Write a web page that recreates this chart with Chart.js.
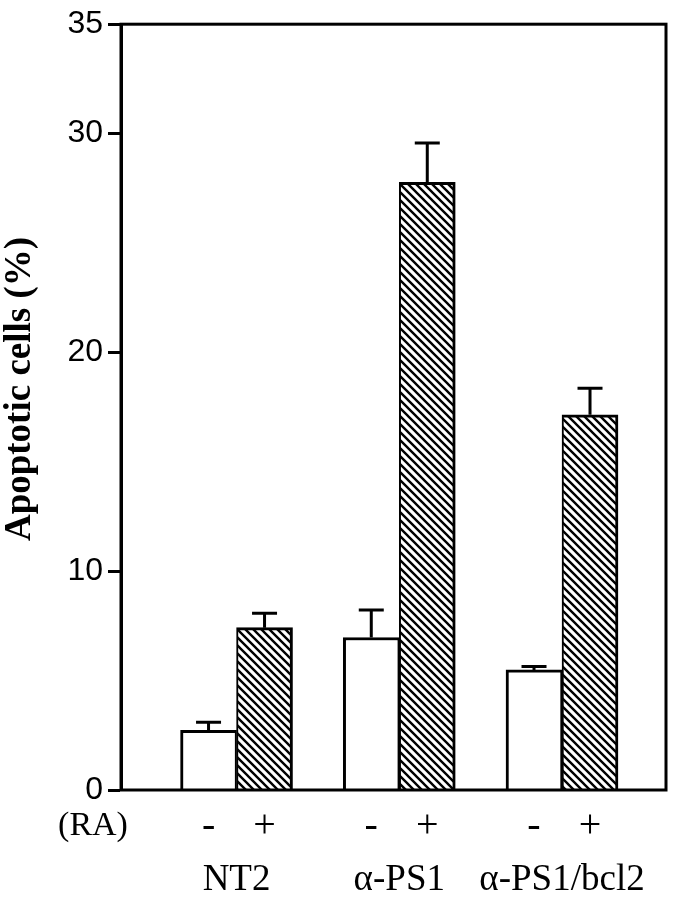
<!DOCTYPE html>
<html>
<head>
<meta charset="utf-8">
<script src="https://cdn.jsdelivr.net/npm/chart.js@4"></script>
<style>
  html, body { margin: 0; padding: 0; background: #fff; }
  #wrap { width: 680px; height: 899px; }
</style>
</head>
<body>
<div id="wrap"><canvas id="apoptosisChart"></canvas></div>
<script>
// Cell lines and their position on the x axis
const groupLabels = ['NT2', 'α-PS1', 'α-PS1/bcl2'];
const groupPos = [1, 2, 3];

// Apoptotic cells (%) without / with RA
const minusRA = [2.73, 6.97, 5.49];
const plusRA = [7.42, 27.77, 17.15];

// Error bars (upper side only)
const minusErr = [0.37, 1.26, 0.16];
const plusErr = [0.66, 1.8, 1.21];

const yTicks = [0, 10, 20, 30, 35];
const raLabels = ['-', '+'];

// Diagonal hatch for the +RA bars
function makeHatch() {
  const c = document.createElement('canvas');
  c.width = 8; c.height = 8;
  const g = c.getContext('2d');
  g.fillStyle = '#fff';
  g.fillRect(0, 0, 8, 8);
  g.strokeStyle = '#000';
  g.lineWidth = 2.4;
  g.beginPath();
  g.moveTo(-2, -2); g.lineTo(10, 10);
  g.moveTo(-2, 6); g.lineTo(2, 10);
  g.moveTo(6, -2); g.lineTo(10, 2);
  g.stroke();
  return g.createPattern(c, 'repeat');
}

// Error bars drawn on top of the bars
const errorBars = {
  id: 'errorBars',
  afterDatasetsDraw(chart) {
    const ctx = chart.ctx, y = chart.scales.y;
    [minusErr, plusErr].forEach((errs, di) => {
      const meta = chart.getDatasetMeta(di);
      const vals = chart.data.datasets[di].data;
      meta.data.forEach((bar, i) => {
        const top = y.getPixelForValue(vals[i].y + errs[i]);
        ctx.save();
        ctx.strokeStyle = '#000';
        ctx.lineWidth = 3;
        ctx.beginPath();
        ctx.moveTo(bar.x, bar.y); ctx.lineTo(bar.x, top);
        ctx.moveTo(bar.x - 12.5, top); ctx.lineTo(bar.x + 12.5, top);
        ctx.stroke();
        ctx.restore();
      });
    });
  }
};

// Frame, y title and the labels under the axis
const frameAndLabels = {
  id: 'frameAndLabels',
  afterDraw(chart) {
    const ctx = chart.ctx, a = chart.chartArea, x = chart.scales.x;
    ctx.save();
    ctx.strokeStyle = '#000';
    ctx.lineWidth = 3;
    ctx.strokeRect(a.left, a.top, a.right - a.left, a.bottom - a.top);

    ctx.fillStyle = '#000';
    // y axis title
    ctx.save();
    ctx.translate(20, 389);
    ctx.rotate(-Math.PI / 2);
    ctx.font = 'bold 37px "Liberation Serif"';
    ctx.textAlign = 'center';
    ctx.textBaseline = 'middle';
    ctx.fillText('Apoptotic cells (%)', 0, 0);
    ctx.restore();

    // (RA) row
    ctx.font = '34px "Liberation Serif"';
    ctx.textAlign = 'center';
    ctx.textBaseline = 'middle';
    ctx.fillText('(RA)', 93, 826);
    ctx.font = '40px "Liberation Serif"';
    [0, 1].forEach(di => {
      chart.getDatasetMeta(di).data.forEach(bar => {
        ctx.fillText(raLabels[di], bar.x, 826);
      });
    });

    // group names
    ctx.font = '37px "Liberation Serif"';
    ctx.textBaseline = 'alphabetic';
    groupPos.forEach((p, i) => {
      ctx.fillText(groupLabels[i], x.getPixelForValue(p), 890);
    });
    ctx.restore();
  }
};

const hatch = makeHatch();

new Chart(document.getElementById('apoptosisChart').getContext('2d'), {
  type: 'bar',
  data: {
    datasets: [
      {
        label: '- RA',
        data: groupPos.map((p, i) => ({ x: p, y: minusRA[i] })),
        backgroundColor: '#fff',
        borderColor: '#000',
        borderWidth: { top: 3, left: 3, right: 2, bottom: 0 },
        barThickness: 56
      },
      {
        label: '+ RA',
        data: groupPos.map((p, i) => ({ x: p, y: plusRA[i] })),
        backgroundColor: hatch,
        borderColor: '#000',
        borderWidth: { top: 3, left: 2, right: 3, bottom: 0 },
        barThickness: 56
      }
    ]
  },
  options: {
    responsive: true,
    maintainAspectRatio: false,
    animation: false,
    layout: { padding: { left: 0, right: 14, top: 19, bottom: 109 } },
    plugins: {
      legend: { display: false },
      tooltip: { enabled: false }
    },
    scales: {
      x: {
        type: 'linear',
        display: false,
        offset: false,
        min: 0.29,
        max: 3.639
      },
      y: {
        min: 0,
        max: 35,
        afterFit: s => { s.width = 121; },
        afterBuildTicks: s => { s.ticks = yTicks.map(v => ({ value: v })); },
        border: { display: true, color: '#000', width: 3 },
        grid: {
          drawOnChartArea: false,
          drawTicks: true,
          tickLength: 13,
          tickWidth: 3,
          tickColor: '#000'
        },
        ticks: {
          color: '#000',
          padding: 5,
          font: { family: '"Liberation Sans"', size: 32 }
        }
      }
    }
  },
  plugins: [errorBars, frameAndLabels]
});
</script>
</body>
</html>
